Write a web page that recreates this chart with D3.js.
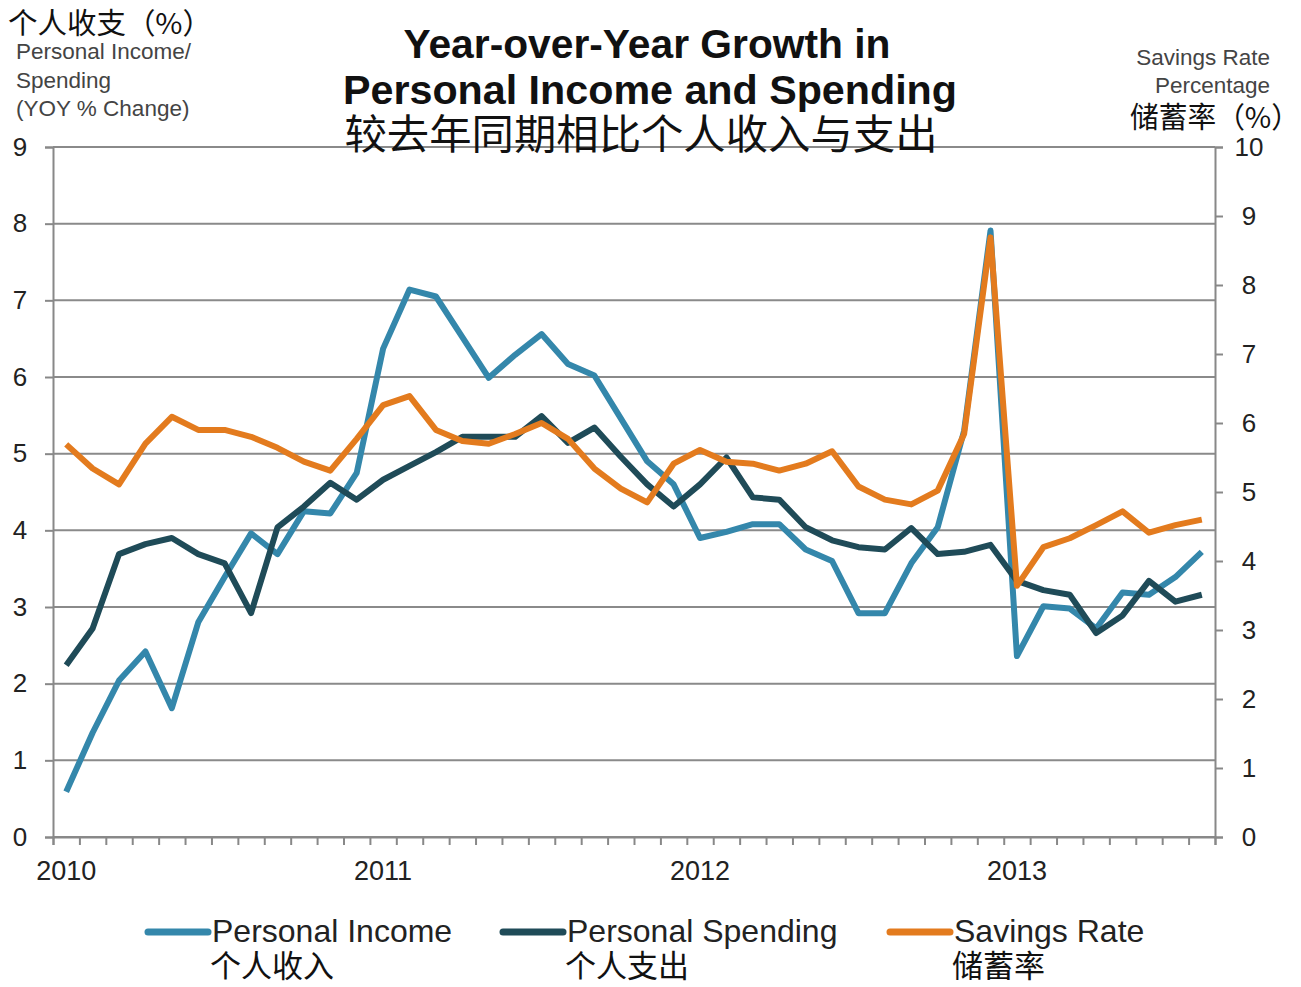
<!DOCTYPE html>
<html>
<head>
<meta charset="utf-8">
<script src="https://cdn.jsdelivr.net/npm/d3@7"></script>
<style>
  body { margin: 0; background: #fff; }
  svg text { font-family: "Liberation Sans", Arial, sans-serif; }
  .cjk { font-family: "Noto Sans CJK SC", sans-serif; }
</style>
</head>
<body>
<div id="main"></div>
<script>
// monthly values, Jan 2010 - Aug 2013
const yearLabels = ["2010", "2011", "2012", "2013"];
const income = [0.59,1.36,2.04,2.42,1.68,2.80,3.39,3.96,3.69,4.25,4.22,4.75,
  6.37,7.14,7.05,6.52,5.99,6.29,6.56,6.17,6.02,5.46,4.90,4.60,
  3.90,3.98,4.08,4.08,3.75,3.60,2.92,2.92,3.57,4.04,5.30,7.91,
  2.36,3.01,2.98,2.72,3.19,3.16,3.39,3.72];
const spending = [2.24,2.72,3.69,3.82,3.90,3.69,3.57,2.92,4.04,4.31,4.62,4.40,
  4.66,4.84,5.02,5.22,5.22,5.22,5.49,5.14,5.34,4.96,4.60,4.31,
  4.60,4.95,4.43,4.40,4.04,3.87,3.78,3.75,4.03,3.69,3.72,3.81,
  3.34,3.22,3.16,2.66,2.89,3.34,3.07,3.16];
const savings = [5.69,5.34,5.11,5.70,6.09,5.90,5.90,5.80,5.64,5.44,5.31,5.77,
  6.26,6.39,5.90,5.74,5.70,5.84,6.00,5.77,5.34,5.05,4.85,5.41,
  5.61,5.44,5.41,5.31,5.41,5.59,5.08,4.89,4.82,5.02,5.84,8.69,
  3.64,4.20,4.33,4.52,4.72,4.41,4.52,4.60];
const leftTicks = d3.range(0, 10);
const rightTicks = d3.range(0, 11);
const seriesNames = ["Personal Income", "Personal Spending", "Savings Rate"];
const seriesCn = ["个人收入", "个人支出", "储蓄率"];
const colors = ["#3487ab", "#1f4b58", "#e37b1e"];

const width = 1301, height = 987;
const margin = {top: 147, right: 86, bottom: 150, left: 53};
const plotW = width - margin.left - margin.right;
const plotH = height - margin.top - margin.bottom;

const svg = d3.select("#main").append("svg")
  .attr("width", width)
  .attr("height", height);

const xScale = d3.scaleLinear().domain([0, income.length]).range([margin.left, margin.left + plotW]);
const yLeft = d3.scaleLinear().domain([0, 9]).range([margin.top + plotH, margin.top]);
const yRight = d3.scaleLinear().domain([0, 10]).range([margin.top + plotH, margin.top]);

//gridlines
svg.append("g")
  .selectAll("line")
  .data(leftTicks)
  .enter().append("line")
  .attr("x1", margin.left).attr("x2", margin.left + plotW)
  .attr("y1", d => yLeft(d)).attr("y2", d => yLeft(d))
  .attr("stroke", "#8a8a8a").attr("stroke-width", 2);

//left axis
const gl = svg.append("g")
  .attr("transform", "translate(" + margin.left + ",0)")
  .call(d3.axisLeft(yLeft).tickValues(leftTicks).tickSize(8));
gl.selectAll("path, line").attr("stroke", "#888").attr("stroke-width", 2);
gl.selectAll("text").attr("font-size", 26).attr("fill", "#222")
  .attr("text-anchor", "middle").attr("dx", 0).attr("x", -33);

//right axis
const gr = svg.append("g")
  .attr("transform", "translate(" + (margin.left + plotW) + ",0)")
  .call(d3.axisRight(yRight).tickValues(rightTicks).tickSize(8));
gr.selectAll("path, line").attr("stroke", "#888").attr("stroke-width", 2);
gr.selectAll("text").attr("font-size", 26).attr("fill", "#222")
  .attr("text-anchor", "middle").attr("x", 34);

//bottom axis with monthly ticks
const gb = svg.append("g")
  .attr("transform", "translate(0," + (margin.top + plotH) + ")")
  .call(d3.axisBottom(xScale).tickValues(d3.range(0, income.length + 1)).tickSize(8).tickFormat(""));
gb.selectAll("path, line").attr("stroke", "#888").attr("stroke-width", 2);

svg.append("g")
  .selectAll("text")
  .data(yearLabels)
  .enter().append("text")
  .attr("x", (d, i) => xScale(i * 12 + 0.5))
  .attr("y", 880)
  .attr("text-anchor", "middle")
  .attr("font-size", 27)
  .attr("fill", "#222")
  .text(d => d);

//series lines
const lineLeft = d3.line().x((d, i) => xScale(i + 0.5)).y(d => yLeft(d));
const lineRight = d3.line().x((d, i) => xScale(i + 0.5)).y(d => yRight(d));

[[income, lineLeft], [spending, lineLeft], [savings, lineRight]].forEach((s, k) => {
  svg.append("path")
    .datum(s[0])
    .attr("d", s[1])
    .attr("fill", "none")
    .attr("stroke", colors[k])
    .attr("stroke-width", 6)
    .attr("stroke-linejoin", "round");
});

//titles
svg.append("text").attr("x", 647).attr("y", 58).attr("text-anchor", "middle")
  .attr("font-size", 40).attr("font-weight", "bold").attr("fill", "#111")
  .attr("textLength", 487).attr("lengthAdjust", "spacingAndGlyphs")
  .text("Year-over-Year Growth in");
svg.append("text").attr("x", 650).attr("y", 104).attr("text-anchor", "middle")
  .attr("font-size", 40).attr("font-weight", "bold").attr("fill", "#111")
  .attr("textLength", 614).attr("lengthAdjust", "spacingAndGlyphs")
  .text("Personal Income and Spending");
svg.append("text").attr("class", "cjk").attr("x", 641).attr("y", 149).attr("text-anchor", "middle")
  .attr("font-size", 41).attr("fill", "#111")
  .attr("textLength", 593).attr("lengthAdjust", "spacingAndGlyphs")
  .text("较去年同期相比个人收入与支出");

//left axis title
svg.append("text").attr("class", "cjk").attr("x", 8).attr("y", 34)
  .attr("font-size", 29).attr("fill", "#111")
  .attr("textLength", 204).attr("lengthAdjust", "spacingAndGlyphs")
  .text("个人收支（%）");
["Personal Income/", "Spending", "(YOY % Change)"].forEach((t, i) => {
  svg.append("text").attr("x", 16).attr("y", 59 + i * 28.5)
    .attr("font-size", 22.5).attr("fill", "#444").text(t);
});

//right axis title
["Savings Rate", "Percentage"].forEach((t, i) => {
  svg.append("text").attr("x", 1270).attr("y", 65 + i * 28).attr("text-anchor", "end")
    .attr("font-size", 22.5).attr("fill", "#444").text(t);
});
svg.append("text").attr("class", "cjk").attr("x", 1130).attr("y", 128)
  .attr("font-size", 29).attr("fill", "#111")
  .attr("textLength", 170).attr("lengthAdjust", "spacingAndGlyphs")
  .text("储蓄率（%）");

//legend
const legendX = [148, 503, 890];
const legend = svg.append("g").selectAll("g")
  .data(seriesNames)
  .enter().append("g")
  .attr("transform", (d, i) => "translate(" + legendX[i] + ",0)");
legend.append("line")
  .attr("x1", 0).attr("x2", 60).attr("y1", 932).attr("y2", 932)
  .attr("stroke", (d, i) => colors[i]).attr("stroke-width", 7).attr("stroke-linecap", "round");
legend.append("text")
  .attr("x", 64).attr("y", 942).attr("font-size", 32).attr("fill", "#222")
  .text(d => d);
legend.append("text")
  .attr("class", "cjk")
  .attr("x", 62).attr("y", 977).attr("font-size", 31).attr("fill", "#111")
  .text((d, i) => seriesCn[i]);
</script>
</body>
</html>
